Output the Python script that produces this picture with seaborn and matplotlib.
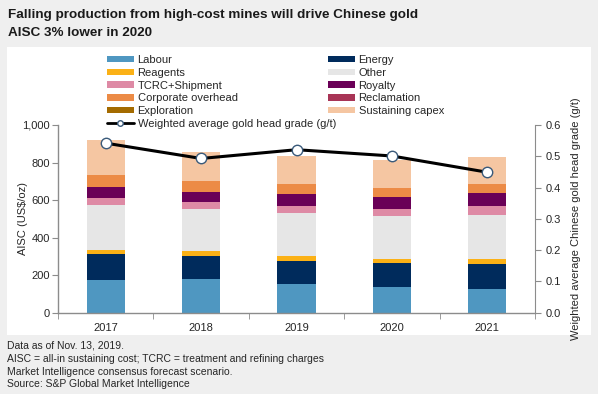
import numpy as np
import pandas as pd
import matplotlib
matplotlib.use('Agg')
import matplotlib.pyplot as plt
from matplotlib.patches import Patch, Rectangle
from matplotlib.lines import Line2D
import seaborn as sns

years = ['2017', '2018', '2019', '2020', '2021']
labour = [174, 179, 155, 137, 126]
energy = [139, 125, 122, 126, 133]
reagents = [21, 25, 27, 25, 29]
other = [241, 223, 225, 227, 232]
tcrc = [38, 36, 41, 36, 50]
royalty = [58, 57, 61, 65, 66]
corporate = [63, 58, 53, 50, 50]
reclamation = [1, 1, 3, 1, 1]
exploration = [0, 0, 0, 0, 0]
sustaining = [183, 152, 148, 144, 140]
grade = [0.542, 0.493, 0.521, 0.501, 0.449]

series = [
    ('Labour', labour, '#4f97c1'),
    ('Energy', energy, '#002b5c'),
    ('Reagents', reagents, '#fbb116'),
    ('Other', other, '#e6e6e6'),
    ('TCRC+Shipment', tcrc, '#de8aa5'),
    ('Royalty', royalty, '#6a0057'),
    ('Corporate overhead', corporate, '#ec8b46'),
    ('Reclamation', reclamation, '#a83456'),
    ('Exploration', exploration, '#a46b00'),
    ('Sustaining capex', sustaining, '#f5c6a2'),
]

sns.set_style('white')
plt.rcParams['font.family'] = ['Liberation Sans', 'DejaVu Sans']

fig = plt.figure(figsize=(5.98, 3.94), dpi=100)
fig.patch.set_facecolor('#efefef')
fig.patches.append(Rectangle((7 / 598, 1 - 335 / 394), 584 / 598, 288 / 394,
                             transform=fig.transFigure, facecolor='white',
                             edgecolor='none', zorder=-10))

ax = fig.add_axes([58 / 598, 1 - 312.7 / 394, 477 / 598, 187.7 / 394])
ax.set_facecolor('none')

df = pd.DataFrame({'year': years})
cum = np.zeros(len(years))
cums = []
for name, vals, col in series:
    cum = cum + np.array(vals)
    cums.append((name, cum.copy(), col))

# draw from the top layer down so each lower stack covers the one above
for name, c, col in reversed(cums):
    df['v'] = c
    sns.barplot(data=df, x='year', y='v', color=col, width=0.4,
                saturation=1, linewidth=0, ax=ax)

ax.set_ylim(0, 1000)
ax.set_xlim(-0.5, 4.5)
ax.set_yticks(range(0, 1001, 200))
ax.set_yticklabels(['0', '200', '400', '600', '800', '1,000'])
ax.set_xlabel('')
ax.set_ylabel('AISC (US$/oz)', fontsize=8, labelpad=-4)
for s in ['top', 'right']:
    ax.spines[s].set_visible(False)
for s in ['left', 'bottom']:
    ax.spines[s].set_color('#8c8c8c')
    ax.spines[s].set_linewidth(1)
ax.tick_params(axis='y', left=True, length=4, color='#8c8c8c', labelsize=8, pad=2)
ax.tick_params(axis='x', bottom=False, labelsize=8, pad=4)
ax.set_xticks(np.arange(-0.5, 5, 1), minor=True)
ax.tick_params(axis='x', which='minor', bottom=True, length=4, color='#8c8c8c')

ax2 = ax.twinx()
sns.lineplot(x=np.arange(len(years)), y=grade, ax=ax2, color='black', linewidth=2.2,
             marker='o', markersize=7.5, markerfacecolor='white',
             markeredgecolor='#3a5a7a', markeredgewidth=1)
ax2.set_ylim(0, 0.6)
ax2.set_xlim(-0.5, 4.5)
ax2.set_yticks(np.arange(0, 0.61, 0.1))
ax2.set_yticklabels(['0.0', '0.1', '0.2', '0.3', '0.4', '0.5', '0.6'])
ax2.set_ylabel('Weighted average Chinese gold head grade (g/t)', fontsize=8, labelpad=7)
for s in ['top', 'left', 'bottom']:
    ax2.spines[s].set_visible(False)
ax2.spines['right'].set_color('#8c8c8c')
ax2.tick_params(axis='y', right=True, length=4, color='#8c8c8c', labelsize=8, pad=4)

col1 = [series[i] for i in [0, 2, 4, 6, 8]]
col2 = [series[i] for i in [1, 3, 5, 7, 9]]
h1 = [Patch(facecolor=c, edgecolor='none') for _, _, c in col1]
l1 = [n for n, _, _ in col1]
h1.append(Line2D([], [], color='black', linewidth=2, marker='o', markersize=4,
                 markerfacecolor='white', markeredgecolor='#3a5a7a'))
l1.append('Weighted average gold head grade (g/t)')
h2 = [Patch(facecolor=c, edgecolor='none') for _, _, c in col2]
l2 = [n for n, _, _ in col2]

leg_kw = dict(frameon=False, fontsize=8, handlelength=2.4, handleheight=0.5,
              handletextpad=0.35, labelspacing=0.25, borderpad=0, borderaxespad=0,
              loc='upper left')
fig.legend(h1, l1, bbox_to_anchor=(107 / 598, 1 - 55 / 394), **leg_kw)
fig.legend(h2, l2, bbox_to_anchor=(328 / 598, 1 - 55 / 394), **leg_kw)

fig.text(8 / 598, 1 - 15 / 394, 'Falling production from high-cost mines will drive Chinese gold',
         fontsize=9.7, fontweight='bold', va='center', ha='left', color='#1a1a1a')
fig.text(8 / 598, 1 - 33 / 394, 'AISC 3% lower in 2020',
         fontsize=9.7, fontweight='bold', va='center', ha='left', color='#1a1a1a')

notes = ['Data as of Nov. 13, 2019.',
         'AISC = all-in sustaining cost; TCRC = treatment and refining charges',
         'Market Intelligence consensus forecast scenario.',
         'Source: S&P Global Market Intelligence']
for i, t in enumerate(notes):
    fig.text(7 / 598, 1 - (346 + i * 12.8) / 394, t, fontsize=7.5, va='center', ha='left')

fig.savefig('out.png', dpi=100, facecolor=fig.get_facecolor())
